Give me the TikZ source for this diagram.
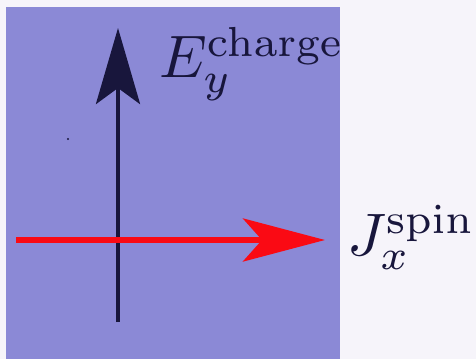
\documentclass[tikz,border=0pt]{standalone}
\usetikzlibrary{arrows.meta}
\definecolor{bgwhite}{RGB}{246,244,250}
\definecolor{slab}{RGB}{139,137,214}
\definecolor{ink}{RGB}{24,22,60}
\definecolor{arrred}{RGB}{250,10,20}
\tikzset{
  lbl/.style={inner sep=0pt, text=ink, scale=6, anchor=base west},
  fieldarrow/.style={draw=ink, line width=4.5pt, -{Stealth[length=76pt,width=44pt,inset=16pt]}},
  currarrow/.style={draw=arrred, line width=6pt, -{Stealth[length=82pt,width=43pt,inset=19pt]}},
}
\begin{document}
\begin{tikzpicture}[x=1pt,y=1pt]
\fill[bgwhite] (0,0) rectangle (476,359);
\useasboundingbox (0,0) rectangle (476,359);
\fill[slab] (6,0) rectangle (340,352);
\coordinate (eb) at (118,37);
\coordinate (et) at (118,331);
\coordinate (jl) at (16,119);
\coordinate (jr) at (325,119);
\draw[fieldarrow] (eb) -- (et);
\draw[currarrow] (jl) -- (jr);
\fill[ink] (68,220) circle (1.2pt);
\node[lbl] (E) at (158,281) {$E_y^{\mathrm{charge}}$};
\node[lbl] (J) at (346,104) {$J_x^{\mathrm{spin}}$};
\end{tikzpicture}
\end{document}
